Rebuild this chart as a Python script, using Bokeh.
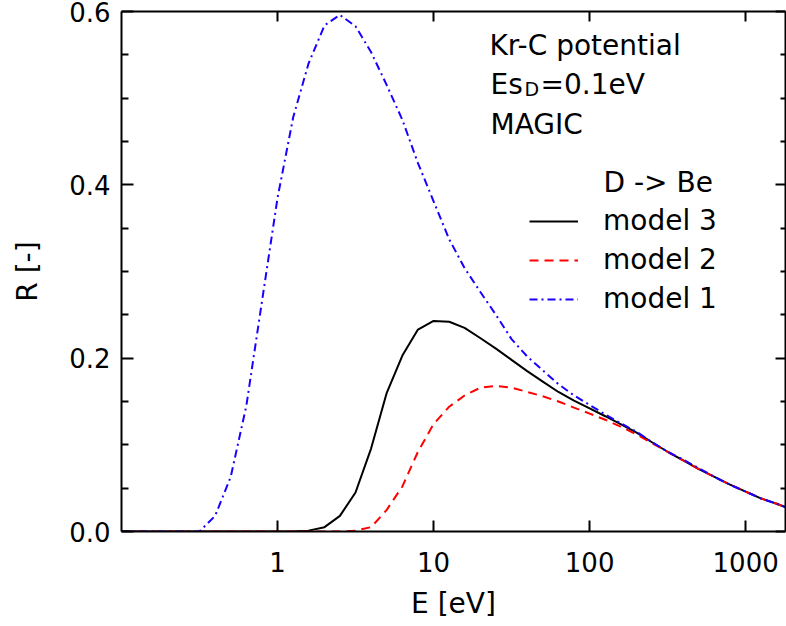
from bokeh.plotting import figure
from bokeh.models import (LogAxis, LinearAxis, FixedTicker, PrintfTickFormatter,
                          CustomJSTickFormatter, Label, Legend, LegendItem, Range1d)
from bokeh.embed import file_html
from bokeh.resources import INLINE

# ---- data ----
energy = [0.1, 0.126, 0.158, 0.2, 0.251, 0.316, 0.398, 0.501, 0.631, 0.794,
          1.0, 1.26, 1.58, 2.0, 2.51, 3.16, 3.98, 5.01, 6.31, 7.94,
          10, 12.6, 15.8, 20, 25.1, 31.6, 39.8, 50.1, 63.1, 79.4,
          100, 126, 158, 200, 251, 316, 398, 501, 631, 794,
          1000, 1260, 1580, 2000]

model3 = [0, 0, 0, 0, 0, 0, 0, 0, 0, 0,
          0, 0, 0.001, 0.005, 0.018, 0.045, 0.096, 0.160, 0.203, 0.233,
          0.243, 0.242, 0.235, 0.223, 0.211, 0.198, 0.185, 0.173, 0.161, 0.151,
          0.142, 0.133, 0.124, 0.114, 0.103, 0.092, 0.082, 0.072, 0.063, 0.054,
          0.046, 0.038, 0.032, 0.025]

model2 = [0, 0, 0, 0, 0, 0, 0, 0, 0, 0,
          0, 0, 0, 0, 0, 0.001, 0.005, 0.025, 0.052, 0.092,
          0.124, 0.144, 0.157, 0.166, 0.168, 0.166, 0.161, 0.156, 0.150, 0.143,
          0.136, 0.129, 0.121, 0.112, 0.102, 0.092, 0.082, 0.072, 0.063, 0.054,
          0.046, 0.038, 0.032, 0.025]

model1 = [0, 0, 0, 0, 0, 0, 0.018, 0.063, 0.145, 0.265,
          0.385, 0.478, 0.540, 0.584, 0.596, 0.583, 0.553, 0.515, 0.475, 0.425,
          0.381, 0.337, 0.304, 0.276, 0.250, 0.222, 0.202, 0.186, 0.170, 0.157,
          0.146, 0.135, 0.125, 0.115, 0.103, 0.092, 0.083, 0.073, 0.063, 0.054,
          0.046, 0.038, 0.032, 0.025]

x_ticks = [1, 10, 100, 1000]
y_ticks = [0.0, 0.2, 0.4, 0.6]
y_minor_ticks = [0.05, 0.1, 0.15, 0.25, 0.3, 0.35, 0.45, 0.5, 0.55]
series_labels = ["model 3", "model 2", "model 1"]

FONT = "DejaVu Sans"

p = figure(width=786, height=626, x_axis_type="log",
           x_range=Range1d(0.1, 1800), y_range=Range1d(0, 0.6),
           x_axis_location=None, y_axis_location=None,
           output_backend="svg", toolbar_location=None,
           min_border_left=121, min_border_right=1,
           min_border_top=11, min_border_bottom=95)
p.outline_line_color = None
p.xgrid.visible = False
p.ygrid.visible = False
p.background_fill_color = "white"
p.border_fill_color = "white"


def style_axis(ax, major_in, minor_in):
    ax.axis_line_width = 2
    ax.axis_line_color = "black"
    ax.major_tick_line_width = 2
    ax.minor_tick_line_width = 2
    ax.major_tick_line_color = "black"
    ax.minor_tick_line_color = "black"
    ax.major_tick_in = major_in
    ax.major_tick_out = 0
    ax.minor_tick_in = minor_in
    ax.minor_tick_out = 0
    ax.major_label_text_font = FONT
    ax.major_label_text_font_size = "26px"
    ax.major_label_text_color = "black"
    ax.axis_label_text_font = FONT
    ax.axis_label_text_font_size = "28px"
    ax.axis_label_text_font_style = "normal"
    ax.axis_label_text_color = "black"


def hide_labels(ax):
    ax.formatter = CustomJSTickFormatter(code="return ''")
    ax.major_label_text_font_size = "1px"
    ax.major_label_text_alpha = 0
    ax.major_label_standoff = 0


xax = LogAxis(ticker=FixedTicker(ticks=x_ticks, minor_ticks=[]),
              formatter=PrintfTickFormatter(format="%d"), axis_label="E [eV]")
style_axis(xax, 11, 0)
xax.major_label_standoff = 20
xax.axis_label_standoff = 12
p.add_layout(xax, "below")

yax = LinearAxis(ticker=FixedTicker(ticks=y_ticks, minor_ticks=y_minor_ticks),
                 formatter=PrintfTickFormatter(format="%.1f"), axis_label="R [-]")
style_axis(yax, 12, 7)
yax.major_label_standoff = 11
yax.axis_label_standoff = 22
p.add_layout(yax, "left")

top = LogAxis(ticker=FixedTicker(ticks=x_ticks, minor_ticks=[]))
style_axis(top, 10, 0)
hide_labels(top)
p.add_layout(top, "above")

right = LinearAxis(ticker=FixedTicker(ticks=y_ticks, minor_ticks=y_minor_ticks))
style_axis(right, 10, 5)
hide_labels(right)
p.add_layout(right, "right")

r3 = p.line(energy, model3, line_color="black", line_width=2)
r2 = p.line(energy, model2, line_color="#ff0000", line_width=2, line_dash="9 6")
r1 = p.line(energy, model1, line_color="#1a00ff", line_width=2, line_dash="8 4 2 4")

legend = Legend(items=[LegendItem(label=series_labels[0], renderers=[r3]),
                       LegendItem(label=series_labels[1], renderers=[r2]),
                       LegendItem(label=series_labels[2], renderers=[r1])],
                location=(408, 216))
legend.glyph_width = 49
legend.glyph_height = 30
legend.label_height = 30
legend.label_standoff = 25
legend.spacing = 6
legend.padding = 0
legend.margin = 0
legend.border_line_color = None
legend.background_fill_alpha = 0
legend.label_text_font = FONT
legend.label_text_font_size = "28px"
legend.label_text_color = "black"
p.add_layout(legend)


def add_text(txt, sx, sy, size="28px"):
    p.add_layout(Label(x=sx, y=sy, x_units="screen", y_units="screen", text=txt,
                       text_font=FONT, text_font_size=size, text_color="black",
                       text_baseline="alphabetic", text_align="left"))


add_text("Kr-C potential", 368, 486)
add_text("Es", 369, 447)
add_text("D", 403, 443, "19px")
add_text("=0.1eV", 419, 447)
add_text("MAGIC", 369, 407)
add_text("D -> Be", 482, 349)

open("out.html", "w").write(file_html(p, INLINE))
